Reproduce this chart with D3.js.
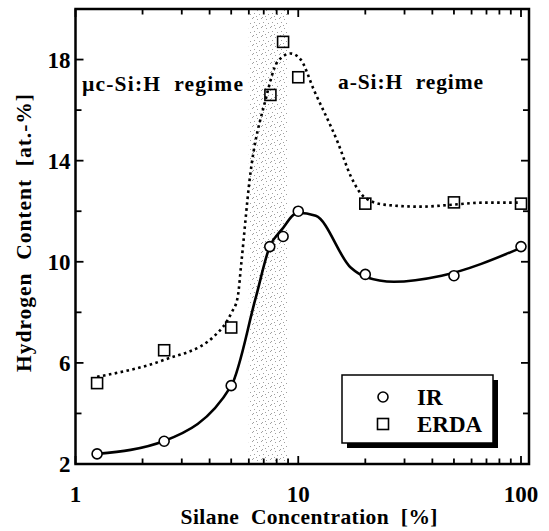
<!DOCTYPE html>
<html>
<head>
<meta charset="UTF-8" />
<title>Hydrogen Content</title>
<script src="https://cdn.jsdelivr.net/npm/d3@7"></script>
<style>
    body { margin: 0; background: #fff; }
    text { font-family: "Liberation Serif", "Times New Roman", serif; font-weight: bold; fill: #000; }
</style>
</head>
<body>
<svg id="chart" width="549" height="531"></svg>
<script>
    // measured points
    var irConc = [1.25, 2.5, 5, 7.45, 8.55, 10, 20, 50, 100];
    var irValues = [2.4, 2.9, 5.1, 10.6, 11.0, 12.0, 9.5, 9.45, 10.6];
    var erdaConc = [1.25, 2.5, 5, 7.5, 8.55, 10, 20, 50, 100];
    var erdaValues = [5.2, 6.5, 7.4, 16.6, 18.7, 17.3, 12.3, 12.35, 12.3];

    // fitted curves
    var irFitConc = [1.25, 2.5, 5.0, 6.44, 7.44, 8.43, 9.95, 11.99, 17.24, 19.93, 26.9, 44, 100];
    var irFitValues = [2.4, 2.91, 5.09, 8.57, 10.59, 11.27, 11.94, 11.82, 9.76, 9.41, 9.21, 9.45, 10.55];
    var erdaFitConc = [1.25, 2.5, 4.16, 5.01, 5.34, 5.57, 6.05, 7.14, 8.08, 9.25, 10.26, 11.74, 15.07, 17.24, 19.72, 24.27, 35.6, 49.6, 68.5, 100];
    var erdaFitValues = [5.45, 6.12, 7.03, 7.98, 8.57, 10.08, 13.25, 16.42, 17.92, 18.24, 18.0, 16.81, 14.71, 13.37, 12.57, 12.26, 12.18, 12.26, 12.34, 12.34];

    // shaded transition band
    var bandConc = [6, 9];

    var xMajor = [1, 10, 100];
    var xMinor = [2, 3, 4, 5, 6, 7, 8, 9, 20, 30, 40, 50, 60, 70, 80, 90];
    var yMajor = [2, 6, 10, 14, 18];
    var yMinor = [4, 8, 12, 16];

    var svg = d3.select("#chart");
    var x = d3.scaleLog().domain([1, 100]).range([75.5, 521]);
    var y = d3.scaleLinear().domain([2, 20]).range([464, 9]);
    var frameL = x(1), frameR = x(100) + 8, frameT = y(20), frameB = y(2);

    // stipple pattern
    var pat = svg.append("defs").append("pattern")
        .attr("id", "stipple").attr("patternUnits", "userSpaceOnUse")
        .attr("width", 9).attr("height", 9);
    [[0, 0], [5, 1], [2, 4], [7, 5], [4, 7], [1, 8]].forEach(function (p) {
        pat.append("rect").attr("x", p[0]).attr("y", p[1]).attr("width", 1).attr("height", 1).attr("fill", "#a0a0a0");
    });

    svg.append("rect")
        .attr("x", x(bandConc[0])).attr("y", frameT)
        .attr("width", x(bandConc[1]) - x(bandConc[0])).attr("height", frameB - frameT)
        .attr("fill", "url(#stipple)");

    // curves
    var line = d3.line()
        .x(function (d) { return x(d[0]); })
        .y(function (d) { return y(d[1]); })
        .curve(d3.curveMonotoneX);

    svg.append("path")
        .datum(d3.zip(erdaFitConc, erdaFitValues))
        .attr("d", line).attr("fill", "none").attr("stroke", "#000")
        .attr("stroke-width", 2.6).attr("stroke-dasharray", "2.6,3.4");

    svg.append("path")
        .datum(d3.zip(irFitConc, irFitValues))
        .attr("d", line).attr("fill", "none").attr("stroke", "#000")
        .attr("stroke-width", 2.6);

    // markers
    svg.selectAll(".ir").data(d3.zip(irConc, irValues)).enter().append("circle")
        .attr("cx", function (d) { return x(d[0]); })
        .attr("cy", function (d) { return y(d[1]); })
        .attr("r", 5).attr("fill", "#fff").attr("stroke", "#000").attr("stroke-width", 1.6);

    svg.selectAll(".erda").data(d3.zip(erdaConc, erdaValues)).enter().append("rect")
        .attr("x", function (d) { return x(d[0]) - 5.5; })
        .attr("y", function (d) { return y(d[1]) - 5.5; })
        .attr("width", 11).attr("height", 11)
        .attr("fill", "none").attr("stroke", "#000").attr("stroke-width", 1.6);

    // frame and ticks
    svg.append("rect").attr("x", frameL).attr("y", frameT)
        .attr("width", frameR - frameL).attr("height", frameB - frameT)
        .attr("fill", "none").attr("stroke", "#000").attr("stroke-width", 2.5);

    var ticks = svg.append("g").attr("stroke", "#000").attr("stroke-width", 1.8);
    xMajor.concat(xMinor).forEach(function (v) {
        var len = xMajor.indexOf(v) >= 0 ? 8 : 5.5;
        ticks.append("line").attr("x1", x(v)).attr("x2", x(v)).attr("y1", frameB).attr("y2", frameB - len);
        ticks.append("line").attr("x1", x(v)).attr("x2", x(v)).attr("y1", frameT).attr("y2", frameT + len);
    });
    yMajor.concat(yMinor).forEach(function (v) {
        var len = yMajor.indexOf(v) >= 0 ? 8 : 6;
        ticks.append("line").attr("y1", y(v)).attr("y2", y(v)).attr("x1", frameL).attr("x2", frameL + len);
        ticks.append("line").attr("y1", y(v)).attr("y2", y(v)).attr("x1", frameR).attr("x2", frameR - len);
    });

    // tick labels
    svg.selectAll(".xl").data(xMajor).enter().append("text")
        .attr("x", function (d) { return x(d); }).attr("y", 502)
        .attr("text-anchor", "middle").attr("font-size", 23).text(function (d) { return d; });
    svg.selectAll(".yl").data(yMajor).enter().append("text")
        .attr("x", frameL - 5).attr("y", function (d) { return y(d) + 8; })
        .attr("text-anchor", "end").attr("font-size", 23).text(function (d) { return d; });

    // axis titles
    svg.append("text").attr("x", 309).attr("y", 524)
        .attr("text-anchor", "middle").attr("font-size", 21.5).attr("xml:space", "preserve")
        .attr("textLength", 257).attr("lengthAdjust", "spacing")
        .text("Silane  Concentration  [%]");
    svg.append("text").attr("transform", "translate(31,233) rotate(-90)")
        .attr("text-anchor", "middle").attr("font-size", 21.5).attr("xml:space", "preserve")
        .attr("textLength", 278).attr("lengthAdjust", "spacing")
        .text("Hydrogen  Content  [at.-%]");

    // regime labels
    svg.append("text").attr("x", 82).attr("y", 91).attr("font-size", 21.5).attr("xml:space", "preserve")
        .attr("textLength", 161).attr("lengthAdjust", "spacing")
        .text("\u00b5c-Si:H  regime");
    svg.append("text").attr("x", 338).attr("y", 89).attr("font-size", 21.5).attr("xml:space", "preserve")
        .attr("textLength", 145).attr("lengthAdjust", "spacing")
        .text("a-Si:H  regime");

    // legend
    var lg = svg.append("g").attr("transform", "translate(342,375)");
    lg.append("rect").attr("x", 5).attr("y", 5).attr("width", 151).attr("height", 68).attr("fill", "#000");
    lg.append("rect").attr("x", 0).attr("y", 0).attr("width", 151).attr("height", 68)
        .attr("fill", "#fff").attr("stroke", "#000").attr("stroke-width", 1.5);
    lg.append("circle").attr("cx", 41).attr("cy", 22).attr("r", 5)
        .attr("fill", "#fff").attr("stroke", "#000").attr("stroke-width", 1.6);
    lg.append("rect").attr("x", 35.5).attr("y", 43.5).attr("width", 11).attr("height", 11)
        .attr("fill", "#fff").attr("stroke", "#000").attr("stroke-width", 1.6);
    lg.append("text").attr("x", 75).attr("y", 30).attr("font-size", 23).text("IR");
    lg.append("text").attr("x", 75).attr("y", 57).attr("font-size", 23).text("ERDA");
</script>
</body>
</html>
